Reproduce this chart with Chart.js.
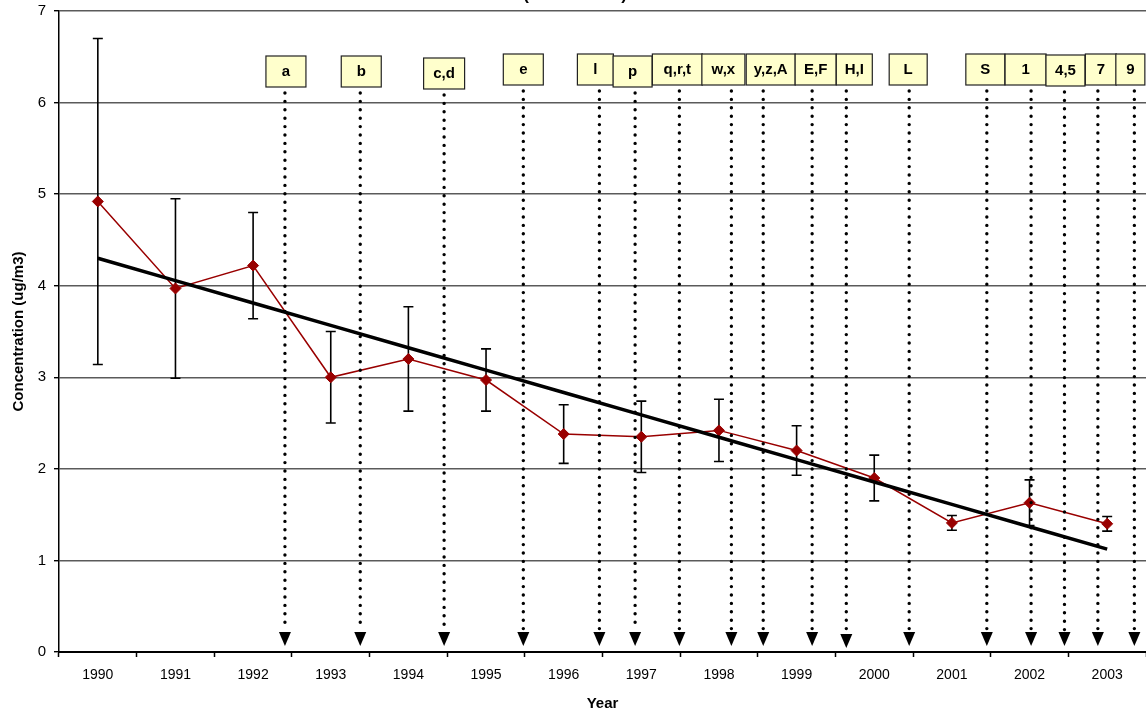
<!DOCTYPE html>
<html>
<head>
<meta charset="utf-8">
<script src="https://cdn.jsdelivr.net/npm/chart.js@4.4.0/dist/chart.umd.min.js"></script>
<style>
  html, body { margin: 0; padding: 0; background: #fff; overflow: hidden; }
  canvas { display: block; }
</style>
</head>
<body>
<canvas id="g-concentracion" width="1146" height="715"></canvas>
<script>
// annual means and their error bars (ug/m3)
var years = ['1990', '1991', '1992', '1993', '1994', '1995', '1996', '1997', '1998', '1999', '2000', '2001', '2002', '2003'];
var concentration = [4.92, 3.97, 4.22, 3.00, 3.20, 2.97, 2.38, 2.35, 2.42, 2.20, 1.90, 1.41, 1.63, 1.40];
var errorBar = [1.78, 0.98, 0.58, 0.50, 0.57, 0.34, 0.32, 0.39, 0.34, 0.27, 0.25, 0.08, 0.25, 0.08];
var yTicks = [0, 1, 2, 3, 4, 5, 6, 7];

// events marked with arrows
var eventLabels = ['a', 'b', 'c,d', 'e', 'l', 'p', 'q,r,t', 'w,x', 'y,z,A', 'E,F', 'H,I', 'L', 'S', '1', '4,5', '7', '9'];
var eventYears = [1992.41, 1993.38, 1994.46, 1995.48, 1996.46, 1996.92, 1997.49, 1998.16, 1998.57, 1999.20, 1999.64, 2000.45, 2001.45, 2002.02, 2002.45, 2002.88, 2003.35];

// label box layout (px)
var boxShift = [1, 1, 0, 0, -4, -2.5, -2, -8, 7.5, 3.5, 8, -1, -1.5, -5.5, 1, 3, -4];
var boxWidth = [40, 40, 41, 40, 36, 39, 50, 43, 49, 41, 36, 38, 39, 41, 39, 31, 29];
var boxDrop = [2, 2, 4, 0, 0, 2, 0, 0, 0, 0, 0, 0, 0, 0, 1, 0, 0];
var arrowDrop = [0, 0, 0, 0, 0, 0, 0, 0, 0, 0, 2, 0, 0, 0, 0, 0, 0];

var FONT = '"Liberation Sans", Arial, sans-serif';
Chart.defaults.font.family = FONT;
Chart.defaults.color = '#000';

// least squares trend over the annual means
var n = concentration.length, sx = 0, sy = 0, sxy = 0, sxx = 0;
for (var i = 0; i < n; i++) {
  sx += i; sy += concentration[i]; sxy += i * concentration[i]; sxx += i * i;
}
var slope = (n * sxy - sx * sy) / (n * sxx - sx * sx);
var intercept = (sy - slope * sx) / n;
var trend = years.map(function (y, i) { return intercept + slope * i; });

var erroresPlugin = {
  id: 'errores',
  beforeDatasetsDraw: function (chart) {
    var ctx = chart.ctx, xs = chart.scales.x, ys = chart.scales.y;
    ctx.save();
    ctx.strokeStyle = '#000';
    ctx.lineWidth = 1.6;
    for (var i = 0; i < concentration.length; i++) {
      var x = xs.getPixelForValue(i);
      var top = ys.getPixelForValue(concentration[i] + errorBar[i]);
      var bot = ys.getPixelForValue(concentration[i] - errorBar[i]);
      ctx.beginPath();
      ctx.moveTo(x, top); ctx.lineTo(x, bot);
      ctx.moveTo(x - 5, top); ctx.lineTo(x + 5, top);
      ctx.moveTo(x - 5, bot); ctx.lineTo(x + 5, bot);
      ctx.stroke();
    }
    ctx.restore();
  }
};

var eventosPlugin = {
  id: 'eventos',
  afterDraw: function (chart) {
    var ctx = chart.ctx, xs = chart.scales.x, ys = chart.scales.y;
    var base = ys.getPixelForValue(0);
    ctx.save();
    for (var i = 0; i < eventLabels.length; i++) {
      var x = xs.getPixelForValue(eventYears[i] - 1990);
      var tip = base - 6 + arrowDrop[i];
      var bTop = 54 + boxDrop[i], bH = 31;

      // dotted shaft
      ctx.strokeStyle = '#000';
      ctx.lineWidth = 3.4;
      ctx.lineCap = 'round';
      ctx.setLineDash([0, 8.4]);
      ctx.beginPath();
      ctx.moveTo(x, bTop + bH + 6);
      ctx.lineTo(x, tip - 16);
      ctx.stroke();
      ctx.setLineDash([]);

      // arrow head
      ctx.fillStyle = '#000';
      ctx.beginPath();
      ctx.moveTo(x - 6, tip - 14);
      ctx.lineTo(x + 6, tip - 14);
      ctx.lineTo(x, tip);
      ctx.closePath();
      ctx.fill();

      // label box
      var cx = x + boxShift[i], w = boxWidth[i];
      ctx.fillStyle = '#ffffcc';
      ctx.fillRect(cx - w / 2, bTop, w, bH);
      ctx.strokeStyle = '#222';
      ctx.lineWidth = 1.2;
      ctx.strokeRect(cx - w / 2, bTop, w, bH);
      ctx.fillStyle = '#000';
      ctx.font = 'bold 15px ' + FONT;
      ctx.textAlign = 'center';
      ctx.textBaseline = 'middle';
      ctx.fillText(eventLabels[i], cx, bTop + bH / 2);
    }
    // chart title runs off the top edge, only the brackets show
    ctx.font = 'bold 17px ' + FONT;
    ctx.textBaseline = 'alphabetic';
    ctx.fillText('(', 526, 0);
    ctx.fillText(')', 624, 0);
    ctx.restore();
  }
};

var idhtml = document.getElementById('g-concentracion').getContext('2d');
var g_lineas = new Chart(idhtml, {
  type: 'line',
  data: {
    labels: years,
    datasets: [{
      label: 'Trend',
      data: trend,
      borderColor: '#000',
      borderWidth: 3.5,
      pointRadius: 0,
      order: 0
    }, {
      label: 'Concentration',
      data: concentration,
      borderColor: '#990000',
      backgroundColor: '#990000',
      borderWidth: 1.5,
      pointStyle: 'rectRot',
      pointRadius: 5.5,
      pointBorderWidth: 1,
      order: 1
    }]
  },
  options: {
    responsive: false,
    animation: false,
    layout: { autoPadding: false, padding: { top: 11, right: 0, bottom: 0, left: 0 } },
    plugins: { legend: { display: false }, tooltip: { enabled: false } },
    scales: {
      x: {
        type: 'category',
        offset: true,
        grid: { offset: true, drawOnChartArea: false, tickLength: 5, tickColor: '#000', tickWidth: 1.5 },
        border: { color: '#000', width: 2 },
        ticks: { autoSkip: false, maxRotation: 0, padding: 10, font: { size: 14 } },
        title: { display: true, text: 'Year', font: { size: 15, weight: 'bold' }, padding: { top: 0, bottom: 2 } },
        afterFit: function (s) { s.height = 63; s.paddingLeft = 0; s.paddingRight = 0; }
      },
      y: {
        min: 0,
        max: 7,
        afterBuildTicks: function (s) { s.ticks = yTicks.map(function (v) { return { value: v }; }); },
        grid: { color: '#5a5a5a', lineWidth: 1.4, tickLength: 5, tickColor: '#000' },
        border: { color: '#000', width: 1.5 },
        ticks: { padding: 8, font: { size: 15 } },
        title: { display: true, text: 'Concentration (ug/m3)', font: { size: 15, weight: 'bold' }, padding: { top: 10, bottom: 0 } },
        afterFit: function (s) { s.width = 59; s.paddingTop = 0; s.paddingBottom = 0; }
      }
    }
  },
  plugins: [erroresPlugin, eventosPlugin]
});
</script>
</body>
</html>
